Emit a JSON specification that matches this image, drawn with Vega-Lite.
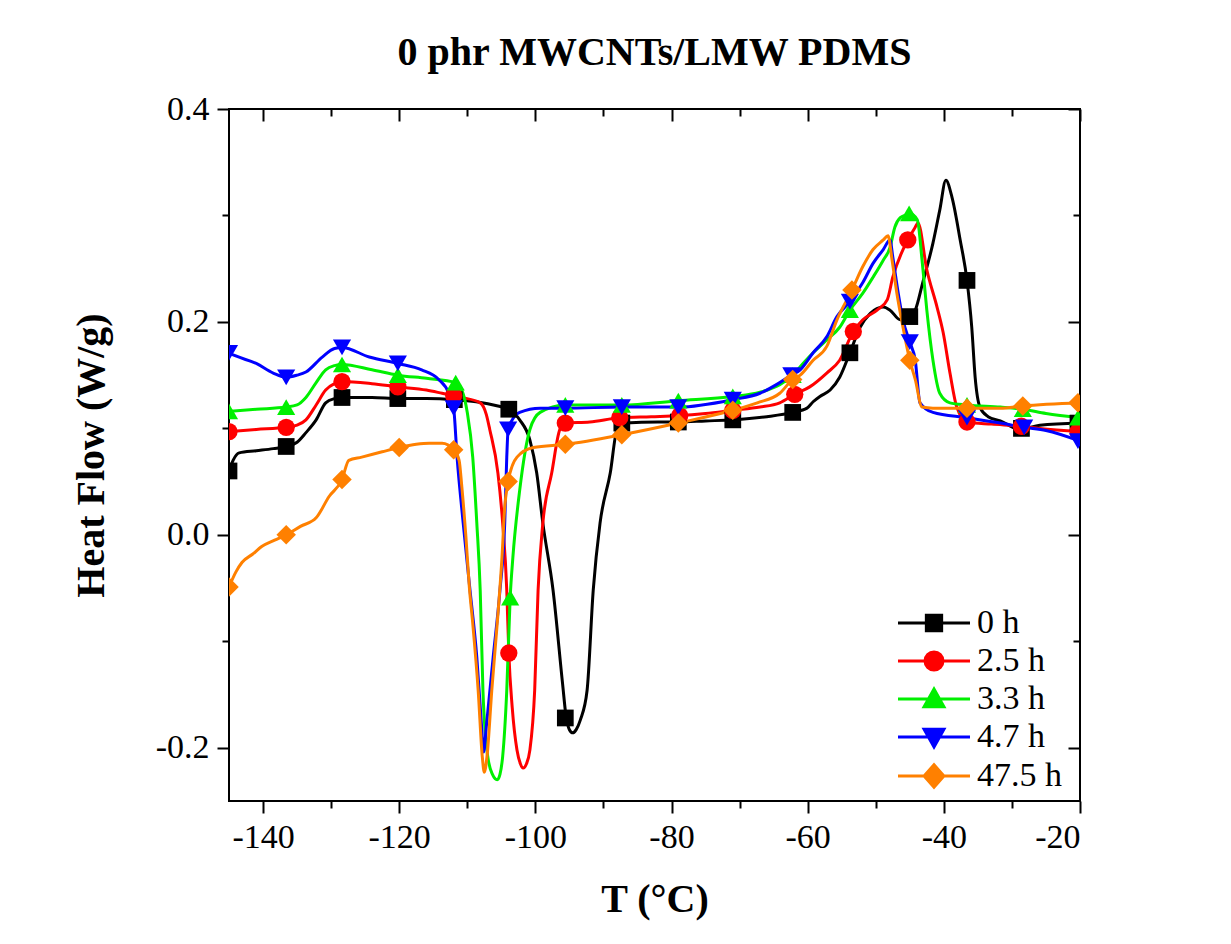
{
  "$schema": "https://vega.github.io/schema/vega-lite/v6.json",
  "width": 851,
  "height": 692,
  "autosize": {"type": "none"},
  "padding": {"left": 229, "top": 109, "right": 151, "bottom": 143},
  "background": "white",
  "title": {"text": "0 phr MWCNTs/LMW PDMS", "font": "Liberation Serif", "fontSize": 40, "fontWeight": "bold", "color": "black", "anchor": "middle", "offset": 19},
  "config": {
    "font": "Liberation Serif",
    "view": {"stroke": "black", "strokeWidth": 2},
    "axis": {"grid": false, "domain": false, "tickColor": "black", "tickWidth": 2, "labelColor": "black", "titleColor": "black", "labelFont": "Liberation Serif", "titleFont": "Liberation Serif"},
    "legend": {"title": null, "labelFontSize": 34, "labelFont": "Liberation Serif", "labelColor": "black", "symbolSize": 324, "symbolStrokeWidth": 3, "symbolOpacity": 1, "labelOffset": 26, "rowPadding": 4, "padding": 0}
  },
  "datasets": {
    "curves": [
      {"s":"0 h","T":-145,"H":0.060},{"s":"0 h","T":-144.4,"H":0.070},{"s":"0 h","T":-143.5,"H":0.077},{"s":"0 h","T":-141,"H":0.079},{"s":"0 h","T":-138.5,"H":0.081},{"s":"0 h","T":-136.6,"H":0.083},{"s":"0 h","T":-135,"H":0.087},{"s":"0 h","T":-133.7,"H":0.096},{"s":"0 h","T":-132.2,"H":0.108},{"s":"0 h","T":-130.8,"H":0.124},{"s":"0 h","T":-129.5,"H":0.128},{"s":"0 h","T":-128.4,"H":0.129},{"s":"0 h","T":-124,"H":0.129},{"s":"0 h","T":-120.2,"H":0.128},{"s":"0 h","T":-116,"H":0.128},{"s":"0 h","T":-111.9,"H":0.127},{"s":"0 h","T":-108.7,"H":0.125},{"s":"0 h","T":-105.5,"H":0.121},{"s":"0 h","T":-103.9,"H":0.118},{"s":"0 h","T":-102.3,"H":0.108},{"s":"0 h","T":-100.8,"H":0.089},{"s":"0 h","T":-99.8,"H":0.058},{"s":"0 h","T":-98.9,"H":0.011},{"s":"0 h","T":-97.4,"H":-0.052},{"s":"0 h","T":-96.0,"H":-0.140},{"s":"0 h","T":-95.5,"H":-0.170},{"s":"0 h","T":-95.0,"H":-0.183},{"s":"0 h","T":-94.5,"H":-0.186},{"s":"0 h","T":-94.0,"H":-0.183},{"s":"0 h","T":-93.4,"H":-0.174},{"s":"0 h","T":-92.4,"H":-0.146},{"s":"0 h","T":-91.5,"H":-0.052},{"s":"0 h","T":-90.5,"H":0.011},{"s":"0 h","T":-89.0,"H":0.058},{"s":"0 h","T":-88.0,"H":0.099},{"s":"0 h","T":-86.8,"H":0.105},{"s":"0 h","T":-82,"H":0.106},{"s":"0 h","T":-79,"H":0.106},{"s":"0 h","T":-75,"H":0.107},{"s":"0 h","T":-71,"H":0.108},{"s":"0 h","T":-66,"H":0.111},{"s":"0 h","T":-62.2,"H":0.115},{"s":"0 h","T":-60.1,"H":0.119},{"s":"0 h","T":-59.2,"H":0.125},{"s":"0 h","T":-58.2,"H":0.130},{"s":"0 h","T":-56.7,"H":0.136},{"s":"0 h","T":-55.3,"H":0.148},{"s":"0 h","T":-53.8,"H":0.171},{"s":"0 h","T":-52.3,"H":0.195},{"s":"0 h","T":-50.8,"H":0.208},{"s":"0 h","T":-48.9,"H":0.214},{"s":"0 h","T":-47.9,"H":0.211},{"s":"0 h","T":-46.4,"H":0.202},{"s":"0 h","T":-45.0,"H":0.205},{"s":"0 h","T":-44.2,"H":0.211},{"s":"0 h","T":-43.1,"H":0.237},{"s":"0 h","T":-41.6,"H":0.274},{"s":"0 h","T":-40.6,"H":0.305},{"s":"0 h","T":-39.7,"H":0.333},{"s":"0 h","T":-38.8,"H":0.317},{"s":"0 h","T":-37.6,"H":0.277},{"s":"0 h","T":-36.6,"H":0.239},{"s":"0 h","T":-35.9,"H":0.195},{"s":"0 h","T":-35.4,"H":0.148},{"s":"0 h","T":-34.7,"H":0.120},{"s":"0 h","T":-33.5,"H":0.111},{"s":"0 h","T":-31.7,"H":0.107},{"s":"0 h","T":-28.8,"H":0.099},{"s":"0 h","T":-25.9,"H":0.103},{"s":"0 h","T":-20,"H":0.105},

      {"s":"2.5 h","T":-145,"H":0.097},{"s":"2.5 h","T":-141,"H":0.099},{"s":"2.5 h","T":-136.6,"H":0.101},{"s":"2.5 h","T":-135,"H":0.103},{"s":"2.5 h","T":-133.7,"H":0.108},{"s":"2.5 h","T":-132.2,"H":0.122},{"s":"2.5 h","T":-130.8,"H":0.136},{"s":"2.5 h","T":-129.5,"H":0.142},{"s":"2.5 h","T":-128.4,"H":0.144},{"s":"2.5 h","T":-124,"H":0.142},{"s":"2.5 h","T":-120.2,"H":0.139},{"s":"2.5 h","T":-116,"H":0.136},{"s":"2.5 h","T":-113.7,"H":0.133},{"s":"2.5 h","T":-110.8,"H":0.129},{"s":"2.5 h","T":-108.1,"H":0.124},{"s":"2.5 h","T":-107.2,"H":0.113},{"s":"2.5 h","T":-106.7,"H":0.099},{"s":"2.5 h","T":-105.5,"H":0.058},{"s":"2.5 h","T":-104.8,"H":0.011},{"s":"2.5 h","T":-104.2,"H":-0.052},{"s":"2.5 h","T":-103.9,"H":-0.111},{"s":"2.5 h","T":-103.4,"H":-0.162},{"s":"2.5 h","T":-102.7,"H":-0.202},{"s":"2.5 h","T":-102.2,"H":-0.215},{"s":"2.5 h","T":-101.8,"H":-0.219},{"s":"2.5 h","T":-101.3,"H":-0.215},{"s":"2.5 h","T":-100.8,"H":-0.202},{"s":"2.5 h","T":-100.1,"H":-0.146},{"s":"2.5 h","T":-99.6,"H":-0.052},{"s":"2.5 h","T":-98.9,"H":0.011},{"s":"2.5 h","T":-97.6,"H":0.058},{"s":"2.5 h","T":-96.4,"H":0.099},{"s":"2.5 h","T":-95.6,"H":0.105},{"s":"2.5 h","T":-92,"H":0.106},{"s":"2.5 h","T":-87.6,"H":0.110},{"s":"2.5 h","T":-83,"H":0.111},{"s":"2.5 h","T":-78.8,"H":0.112},{"s":"2.5 h","T":-75,"H":0.114},{"s":"2.5 h","T":-71,"H":0.117},{"s":"2.5 h","T":-67,"H":0.120},{"s":"2.5 h","T":-64.1,"H":0.124},{"s":"2.5 h","T":-61.9,"H":0.132},{"s":"2.5 h","T":-59.7,"H":0.139},{"s":"2.5 h","T":-57.2,"H":0.152},{"s":"2.5 h","T":-55.3,"H":0.164},{"s":"2.5 h","T":-53.3,"H":0.191},{"s":"2.5 h","T":-51.9,"H":0.202},{"s":"2.5 h","T":-49.8,"H":0.211},{"s":"2.5 h","T":-48.3,"H":0.221},{"s":"2.5 h","T":-47.5,"H":0.242},{"s":"2.5 h","T":-46.0,"H":0.268},{"s":"2.5 h","T":-45.3,"H":0.277},{"s":"2.5 h","T":-44.2,"H":0.289},{"s":"2.5 h","T":-43.8,"H":0.293},{"s":"2.5 h","T":-42.5,"H":0.249},{"s":"2.5 h","T":-41.0,"H":0.214},{"s":"2.5 h","T":-40.1,"H":0.190},{"s":"2.5 h","T":-39.1,"H":0.152},{"s":"2.5 h","T":-38.1,"H":0.120},{"s":"2.5 h","T":-36.6,"H":0.106},{"s":"2.5 h","T":-33,"H":0.104},{"s":"2.5 h","T":-28.6,"H":0.102},{"s":"2.5 h","T":-25.9,"H":0.100},{"s":"2.5 h","T":-20,"H":0.097},

      {"s":"3.3 h","T":-145,"H":0.116},{"s":"3.3 h","T":-141,"H":0.118},{"s":"3.3 h","T":-136.6,"H":0.120},{"s":"3.3 h","T":-135,"H":0.122},{"s":"3.3 h","T":-133.7,"H":0.129},{"s":"3.3 h","T":-132.2,"H":0.143},{"s":"3.3 h","T":-130.8,"H":0.155},{"s":"3.3 h","T":-129.5,"H":0.159},{"s":"3.3 h","T":-128.4,"H":0.160},{"s":"3.3 h","T":-124,"H":0.155},{"s":"3.3 h","T":-120.2,"H":0.150},{"s":"3.3 h","T":-116,"H":0.147},{"s":"3.3 h","T":-111.7,"H":0.143},{"s":"3.3 h","T":-110.8,"H":0.136},{"s":"3.3 h","T":-110.0,"H":0.115},{"s":"3.3 h","T":-109.2,"H":0.073},{"s":"3.3 h","T":-108.6,"H":0.011},{"s":"3.3 h","T":-108.1,"H":-0.052},{"s":"3.3 h","T":-107.7,"H":-0.146},{"s":"3.3 h","T":-107.0,"H":-0.208},{"s":"3.3 h","T":-106.3,"H":-0.225},{"s":"3.3 h","T":-105.6,"H":-0.230},{"s":"3.3 h","T":-105.2,"H":-0.225},{"s":"3.3 h","T":-104.8,"H":-0.208},{"s":"3.3 h","T":-104.2,"H":-0.146},{"s":"3.3 h","T":-103.7,"H":-0.059},{"s":"3.3 h","T":-103.3,"H":-0.021},{"s":"3.3 h","T":-102.3,"H":0.042},{"s":"3.3 h","T":-100.8,"H":0.099},{"s":"3.3 h","T":-99.3,"H":0.115},{"s":"3.3 h","T":-95.6,"H":0.122},{"s":"3.3 h","T":-87.3,"H":0.122},{"s":"3.3 h","T":-79,"H":0.126},{"s":"3.3 h","T":-71,"H":0.130},{"s":"3.3 h","T":-67,"H":0.134},{"s":"3.3 h","T":-64.1,"H":0.141},{"s":"3.3 h","T":-62.2,"H":0.150},{"s":"3.3 h","T":-61.1,"H":0.158},{"s":"3.3 h","T":-59.2,"H":0.171},{"s":"3.3 h","T":-57.2,"H":0.183},{"s":"3.3 h","T":-55.3,"H":0.195},{"s":"3.3 h","T":-53.8,"H":0.211},{"s":"3.3 h","T":-51.9,"H":0.227},{"s":"3.3 h","T":-50.4,"H":0.242},{"s":"3.3 h","T":-48.9,"H":0.258},{"s":"3.3 h","T":-47.9,"H":0.270},{"s":"3.3 h","T":-47.2,"H":0.289},{"s":"3.3 h","T":-46.4,"H":0.298},{"s":"3.3 h","T":-45.4,"H":0.301},{"s":"3.3 h","T":-45.1,"H":0.302},{"s":"3.3 h","T":-43.9,"H":0.296},{"s":"3.3 h","T":-43.2,"H":0.258},{"s":"3.3 h","T":-42.5,"H":0.211},{"s":"3.3 h","T":-41.6,"H":0.164},{"s":"3.3 h","T":-40.6,"H":0.133},{"s":"3.3 h","T":-39.1,"H":0.124},{"s":"3.3 h","T":-36.6,"H":0.122},{"s":"3.3 h","T":-31.7,"H":0.120},{"s":"3.3 h","T":-28.4,"H":0.118},{"s":"3.3 h","T":-25,"H":0.114},{"s":"3.3 h","T":-20,"H":0.110},

      {"s":"4.7 h","T":-145,"H":0.171},{"s":"4.7 h","T":-144,"H":0.168},{"s":"4.7 h","T":-141,"H":0.161},{"s":"4.7 h","T":-138.5,"H":0.152},{"s":"4.7 h","T":-136.6,"H":0.148},{"s":"4.7 h","T":-135,"H":0.150},{"s":"4.7 h","T":-133.7,"H":0.153},{"s":"4.7 h","T":-131.3,"H":0.167},{"s":"4.7 h","T":-129.5,"H":0.175},{"s":"4.7 h","T":-128.4,"H":0.176},{"s":"4.7 h","T":-124.4,"H":0.167},{"s":"4.7 h","T":-120.2,"H":0.161},{"s":"4.7 h","T":-116.7,"H":0.155},{"s":"4.7 h","T":-114.2,"H":0.146},{"s":"4.7 h","T":-112.7,"H":0.133},{"s":"4.7 h","T":-112.0,"H":0.119},{"s":"4.7 h","T":-111.5,"H":0.073},{"s":"4.7 h","T":-110.6,"H":0.011},{"s":"4.7 h","T":-109.6,"H":-0.052},{"s":"4.7 h","T":-108.6,"H":-0.115},{"s":"4.7 h","T":-107.9,"H":-0.180},{"s":"4.7 h","T":-107.6,"H":-0.204},{"s":"4.7 h","T":-107.2,"H":-0.180},{"s":"4.7 h","T":-106.2,"H":-0.115},{"s":"4.7 h","T":-105.2,"H":-0.052},{"s":"4.7 h","T":-104.5,"H":0.011},{"s":"4.7 h","T":-104.2,"H":0.073},{"s":"4.7 h","T":-104.0,"H":0.099},{"s":"4.7 h","T":-103.4,"H":0.108},{"s":"4.7 h","T":-102.3,"H":0.115},{"s":"4.7 h","T":-99.3,"H":0.119},{"s":"4.7 h","T":-95.6,"H":0.119},{"s":"4.7 h","T":-87.3,"H":0.120},{"s":"4.7 h","T":-79,"H":0.120},{"s":"4.7 h","T":-71,"H":0.127},{"s":"4.7 h","T":-67,"H":0.133},{"s":"4.7 h","T":-64.1,"H":0.143},{"s":"4.7 h","T":-62.4,"H":0.150},{"s":"4.7 h","T":-61.1,"H":0.155},{"s":"4.7 h","T":-59.2,"H":0.171},{"s":"4.7 h","T":-57.2,"H":0.186},{"s":"4.7 h","T":-55.7,"H":0.205},{"s":"4.7 h","T":-53.8,"H":0.219},{"s":"4.7 h","T":-51.9,"H":0.237},{"s":"4.7 h","T":-50.4,"H":0.255},{"s":"4.7 h","T":-48.9,"H":0.268},{"s":"4.7 h","T":-47.9,"H":0.277},{"s":"4.7 h","T":-47.5,"H":0.261},{"s":"4.7 h","T":-46.7,"H":0.227},{"s":"4.7 h","T":-46.0,"H":0.202},{"s":"4.7 h","T":-45.0,"H":0.181},{"s":"4.7 h","T":-44.2,"H":0.164},{"s":"4.7 h","T":-43.5,"H":0.124},{"s":"4.7 h","T":-41.6,"H":0.115},{"s":"4.7 h","T":-36.6,"H":0.110},{"s":"4.7 h","T":-31.7,"H":0.105},{"s":"4.7 h","T":-28.2,"H":0.101},{"s":"4.7 h","T":-25,"H":0.098},{"s":"4.7 h","T":-20,"H":0.088},

      {"s":"47.5 h","T":-145,"H":-0.049},{"s":"47.5 h","T":-144,"H":-0.035},{"s":"47.5 h","T":-143.1,"H":-0.026},{"s":"47.5 h","T":-141.5,"H":-0.018},{"s":"47.5 h","T":-140.2,"H":-0.011},{"s":"47.5 h","T":-138.3,"H":-0.005},{"s":"47.5 h","T":-136.6,"H":0.000},{"s":"47.5 h","T":-134.5,"H":0.008},{"s":"47.5 h","T":-132.2,"H":0.016},{"s":"47.5 h","T":-130.3,"H":0.036},{"s":"47.5 h","T":-128.4,"H":0.052},{"s":"47.5 h","T":-127.4,"H":0.070},{"s":"47.5 h","T":-125.5,"H":0.073},{"s":"47.5 h","T":-122.5,"H":0.078},{"s":"47.5 h","T":-120,"H":0.082},{"s":"47.5 h","T":-117.5,"H":0.085},{"s":"47.5 h","T":-115.6,"H":0.086},{"s":"47.5 h","T":-113.7,"H":0.086},{"s":"47.5 h","T":-112,"H":0.080},{"s":"47.5 h","T":-111.2,"H":0.070},{"s":"47.5 h","T":-110.8,"H":0.045},{"s":"47.5 h","T":-110.2,"H":-0.002},{"s":"47.5 h","T":-109.7,"H":-0.049},{"s":"47.5 h","T":-109.2,"H":-0.083},{"s":"47.5 h","T":-108.4,"H":-0.146},{"s":"47.5 h","T":-107.8,"H":-0.208},{"s":"47.5 h","T":-107.5,"H":-0.223},{"s":"47.5 h","T":-107.1,"H":-0.208},{"s":"47.5 h","T":-106.4,"H":-0.146},{"s":"47.5 h","T":-105.6,"H":-0.083},{"s":"47.5 h","T":-104.9,"H":-0.021},{"s":"47.5 h","T":-104.5,"H":0.026},{"s":"47.5 h","T":-104,"H":0.050},{"s":"47.5 h","T":-102.7,"H":0.073},{"s":"47.5 h","T":-100.3,"H":0.082},{"s":"47.5 h","T":-95.6,"H":0.085},{"s":"47.5 h","T":-87.3,"H":0.094},{"s":"47.5 h","T":-79,"H":0.105},{"s":"47.5 h","T":-71,"H":0.117},{"s":"47.5 h","T":-67.4,"H":0.124},{"s":"47.5 h","T":-64.1,"H":0.133},{"s":"47.5 h","T":-62.2,"H":0.146},{"s":"47.5 h","T":-61.1,"H":0.150},{"s":"47.5 h","T":-59.2,"H":0.164},{"s":"47.5 h","T":-57.2,"H":0.177},{"s":"47.5 h","T":-55.7,"H":0.202},{"s":"47.5 h","T":-53.5,"H":0.230},{"s":"47.5 h","T":-51.9,"H":0.252},{"s":"47.5 h","T":-50.4,"H":0.268},{"s":"47.5 h","T":-48.9,"H":0.277},{"s":"47.5 h","T":-48.2,"H":0.281},{"s":"47.5 h","T":-47.6,"H":0.258},{"s":"47.5 h","T":-46.9,"H":0.227},{"s":"47.5 h","T":-46.0,"H":0.195},{"s":"47.5 h","T":-45.0,"H":0.164},{"s":"47.5 h","T":-44.2,"H":0.146},{"s":"47.5 h","T":-43.2,"H":0.120},{"s":"47.5 h","T":-41.6,"H":0.119},{"s":"47.5 h","T":-36.6,"H":0.119},{"s":"47.5 h","T":-31.7,"H":0.119},{"s":"47.5 h","T":-28.4,"H":0.121},{"s":"47.5 h","T":-20,"H":0.124}
    ],
    "markers": [
      {"s":"0 h","T":-145,"H":0.060},{"s":"0 h","T":-136.6,"H":0.083},{"s":"0 h","T":-128.4,"H":0.129},{"s":"0 h","T":-120.2,"H":0.128},{"s":"0 h","T":-111.9,"H":0.127},{"s":"0 h","T":-103.9,"H":0.118},{"s":"0 h","T":-95.6,"H":-0.172},{"s":"0 h","T":-87.3,"H":0.105},{"s":"0 h","T":-79.0,"H":0.106},{"s":"0 h","T":-71.0,"H":0.108},{"s":"0 h","T":-62.2,"H":0.115},{"s":"0 h","T":-53.8,"H":0.171},{"s":"0 h","T":-45.0,"H":0.205},{"s":"0 h","T":-36.6,"H":0.239},{"s":"0 h","T":-28.6,"H":0.100},{"s":"0 h","T":-20.3,"H":0.105},
      {"s":"2.5 h","T":-145,"H":0.097},{"s":"2.5 h","T":-136.6,"H":0.101},{"s":"2.5 h","T":-128.4,"H":0.144},{"s":"2.5 h","T":-120.2,"H":0.139},{"s":"2.5 h","T":-112.0,"H":0.131},{"s":"2.5 h","T":-103.9,"H":-0.111},{"s":"2.5 h","T":-95.6,"H":0.105},{"s":"2.5 h","T":-87.6,"H":0.110},{"s":"2.5 h","T":-78.8,"H":0.112},{"s":"2.5 h","T":-71.0,"H":0.117},{"s":"2.5 h","T":-61.9,"H":0.132},{"s":"2.5 h","T":-53.3,"H":0.191},{"s":"2.5 h","T":-45.3,"H":0.277},{"s":"2.5 h","T":-36.6,"H":0.106},{"s":"2.5 h","T":-28.6,"H":0.102},{"s":"2.5 h","T":-20.3,"H":0.097},
      {"s":"3.3 h","T":-145,"H":0.116},{"s":"3.3 h","T":-136.6,"H":0.120},{"s":"3.3 h","T":-128.4,"H":0.160},{"s":"3.3 h","T":-120.2,"H":0.150},{"s":"3.3 h","T":-111.7,"H":0.143},{"s":"3.3 h","T":-103.7,"H":-0.059},{"s":"3.3 h","T":-95.6,"H":0.122},{"s":"3.3 h","T":-87.3,"H":0.122},{"s":"3.3 h","T":-79.0,"H":0.126},{"s":"3.3 h","T":-71.0,"H":0.130},{"s":"3.3 h","T":-62.2,"H":0.150},{"s":"3.3 h","T":-53.8,"H":0.211},{"s":"3.3 h","T":-45.1,"H":0.302},{"s":"3.3 h","T":-36.6,"H":0.122},{"s":"3.3 h","T":-28.4,"H":0.118},{"s":"3.3 h","T":-20.3,"H":0.110},
      {"s":"4.7 h","T":-145,"H":0.171},{"s":"4.7 h","T":-136.6,"H":0.148},{"s":"4.7 h","T":-128.4,"H":0.176},{"s":"4.7 h","T":-120.2,"H":0.161},{"s":"4.7 h","T":-112.0,"H":0.119},{"s":"4.7 h","T":-104.0,"H":0.099},{"s":"4.7 h","T":-95.6,"H":0.119},{"s":"4.7 h","T":-87.3,"H":0.120},{"s":"4.7 h","T":-79.0,"H":0.120},{"s":"4.7 h","T":-71.0,"H":0.127},{"s":"4.7 h","T":-62.4,"H":0.150},{"s":"4.7 h","T":-53.8,"H":0.219},{"s":"4.7 h","T":-45.0,"H":0.181},{"s":"4.7 h","T":-36.6,"H":0.110},{"s":"4.7 h","T":-28.2,"H":0.101},{"s":"4.7 h","T":-20.3,"H":0.088},
      {"s":"47.5 h","T":-145,"H":-0.049},{"s":"47.5 h","T":-136.6,"H":0.000},{"s":"47.5 h","T":-128.4,"H":0.052},{"s":"47.5 h","T":-120.0,"H":0.082},{"s":"47.5 h","T":-112.0,"H":0.080},{"s":"47.5 h","T":-104.0,"H":0.050},{"s":"47.5 h","T":-95.6,"H":0.085},{"s":"47.5 h","T":-87.3,"H":0.094},{"s":"47.5 h","T":-79.0,"H":0.105},{"s":"47.5 h","T":-71.0,"H":0.117},{"s":"47.5 h","T":-62.2,"H":0.146},{"s":"47.5 h","T":-53.5,"H":0.230},{"s":"47.5 h","T":-45.0,"H":0.164},{"s":"47.5 h","T":-36.6,"H":0.119},{"s":"47.5 h","T":-28.4,"H":0.121},{"s":"47.5 h","T":-20.3,"H":0.124}
    ]
  },
  "resolve": {"axis": {"x": "independent", "y": "independent"}},
  "layer": [
    {
      "data": {"name": "curves"},
      "mark": {"type": "line", "strokeWidth": 3, "interpolate": "monotone", "clip": true},
      "encoding": {
        "x": {"field": "T", "type": "quantitative", "scale": {"domain": [-145, -20], "nice": false, "zero": false},
          "axis": {"orient": "bottom", "values": [-140,-130,-120,-110,-100,-90,-80,-70,-60,-50,-40,-30,-20],
            "tickSize": {"condition": {"test": "datum.value % 20 === 0", "value": 12}, "value": 7},
            "labelExpr": "datum.value % 20 === 0 ? replace(datum.label, '\u2212', '-') : ''",
            "labelFontSize": 34, "labelPadding": 7, "title": "T (°C)", "titleFontSize": 40, "titleFontWeight": "bold", "titlePadding": 25}},
        "y": {"field": "H", "type": "quantitative", "scale": {"domain": [-0.25, 0.4], "nice": false, "zero": false},
          "axis": {"orient": "left", "values": [0.4,0.3,0.2,0.1,0,-0.1,-0.2],
            "tickSize": {"condition": {"test": "abs(round(datum.value*10)) % 2 === 0", "value": 12}, "value": 7},
            "labelExpr": "abs(round(datum.value*10)) % 2 === 0 ? replace(format(datum.value, '.1f'), '\u2212', '-') : ''",
            "labelFontSize": 34, "labelPadding": 8, "title": "Heat Flow (W/g)", "titleFontSize": 40, "titleFontWeight": "bold", "titlePadding": 44}},
        "color": {"field": "s", "type": "nominal", "scale": {"range": ["#000000","#FF0000","#00F000","#0000FF","#FF8000"]}, "legend": null}
      }
    },
    {
      "data": {"name": "markers"},
      "transform": [{"filter": "datum.s === '0 h'"}],
      "mark": {"type": "point", "shape": "square", "filled": true, "opacity": 1, "size": 280, "clip": true},
      "encoding": {
        "x": {"field": "T", "type": "quantitative",
          "axis": {"orient": "top", "values": [-140,-130,-120,-110,-100,-90,-80,-70,-60,-50,-40,-30,-20],
            "tickSize": {"condition": {"test": "datum.value % 20 === 0", "value": -12}, "value": -7}, "labels": false, "title": null}},
        "y": {"field": "H", "type": "quantitative",
          "axis": {"orient": "right", "values": [0.4,0.3,0.2,0.1,0,-0.1,-0.2],
            "tickSize": {"condition": {"test": "abs(round(datum.value*10)) % 2 === 0", "value": -12}, "value": -7}, "labels": false, "title": null}},
        "color": {"field": "s", "type": "nominal", "legend": null}
      }
    },
    {
      "data": {"name": "markers"},
      "transform": [{"filter": "datum.s === '2.5 h'"}],
      "mark": {"type": "point", "shape": "circle", "filled": true, "opacity": 1, "size": 300, "clip": true},
      "encoding": {
        "x": {"field": "T", "type": "quantitative", "axis": null},
        "y": {"field": "H", "type": "quantitative", "axis": null},
        "color": {"field": "s", "type": "nominal", "legend": null}
      }
    },
    {
      "data": {"name": "markers"},
      "transform": [{"filter": "datum.s === '3.3 h'"}],
      "mark": {"type": "point", "shape": "triangle-up", "filled": true, "opacity": 1, "size": 330, "clip": true},
      "encoding": {
        "x": {"field": "T", "type": "quantitative", "axis": null},
        "y": {"field": "H", "type": "quantitative", "axis": null},
        "color": {"field": "s", "type": "nominal", "legend": null}
      }
    },
    {
      "data": {"name": "markers"},
      "transform": [{"filter": "datum.s === '4.7 h'"}],
      "mark": {"type": "point", "shape": "triangle-down", "filled": true, "opacity": 1, "size": 330, "clip": true},
      "encoding": {
        "x": {"field": "T", "type": "quantitative", "axis": null},
        "y": {"field": "H", "type": "quantitative", "axis": null},
        "color": {"field": "s", "type": "nominal", "legend": null}
      }
    },
    {
      "data": {"name": "markers"},
      "transform": [{"filter": "datum.s === '47.5 h'"}],
      "mark": {"type": "point", "shape": "diamond", "filled": true, "opacity": 1, "size": 380, "clip": true},
      "encoding": {
        "x": {"field": "T", "type": "quantitative", "axis": null},
        "y": {"field": "H", "type": "quantitative", "axis": null},
        "color": {"field": "s", "type": "nominal", "legend": null}
      }
    },
    {
      "data": {"name": "markers"},
      "mark": {"type": "point", "filled": true, "opacity": 0, "size": 324, "strokeWidth": 3},
      "encoding": {
        "x": {"field": "T", "type": "quantitative", "axis": null},
        "y": {"field": "H", "type": "quantitative", "axis": null},
        "fill": {"field": "s", "type": "nominal", "scale": {"domain": ["0 h","2.5 h","3.3 h","4.7 h","47.5 h"], "range": ["#000000","#FF0000","#00F000","#0000FF","#FF8000"]},
          "legend": {"orient": "none", "legendX": 688, "legendY": 497}},
        "stroke": {"field": "s", "type": "nominal", "scale": {"domain": ["0 h","2.5 h","3.3 h","4.7 h","47.5 h"], "range": ["#000000","#FF0000","#00F000","#0000FF","#FF8000"]},
          "legend": {"orient": "none", "legendX": 688, "legendY": 497}},
        "shape": {"field": "s", "type": "nominal", "scale": {"domain": ["0 h","2.5 h","3.3 h","4.7 h","47.5 h"], "range": [
            "M-4,0H4M-0.85,-0.85H0.85V0.85H-0.85Z",
            "M-4,0H4M1,0A1,1,0,1,1,-1,0A1,1,0,1,1,1,0Z",
            "M-4,0H4M0,-1.1L1.1,0.85L-1.1,0.85Z",
            "M-4,0H4M0,1.1L1.1,-0.85L-1.1,-0.85Z",
            "M-4,0H4M0,-1.25L1.1,0L0,1.25L-1.1,0Z"]},
          "legend": {"orient": "none", "legendX": 688, "legendY": 497}}
      }
    }
  ]
}
